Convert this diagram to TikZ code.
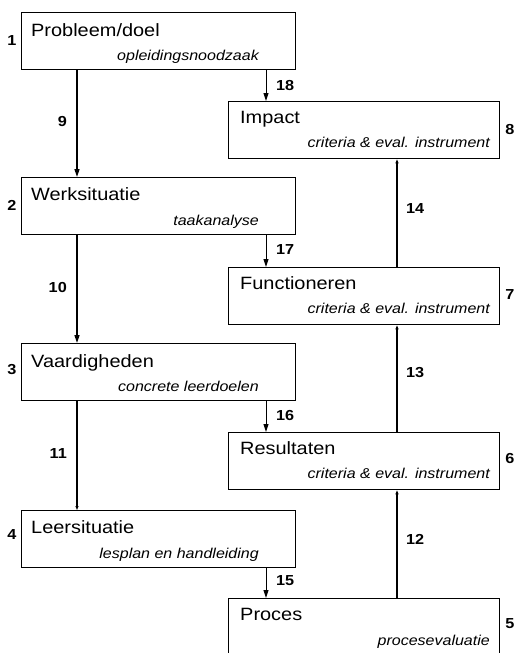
\documentclass[tikz,border=0pt]{standalone}
\usepackage{fontspec}
\setmainfont{Liberation Sans}[FakeStretch=1.12]
\usetikzlibrary{arrows.meta}
\begin{document}
\begin{tikzpicture}[x=1pt,y=-1pt,
  stage/.style={draw, line width=1.3pt, rectangle, inner sep=0pt, anchor=north west,
    minimum height=57pt},
  lstage/.style={stage, minimum width=274pt},
  rstage/.style={stage, minimum width=271pt},
  title/.style={anchor=base west, inner sep=0pt, font=\fontsize{17.8}{20}\selectfont},
  sub/.style={anchor=base east, inner sep=0pt, font=\fontsize{14.3}{16}\selectfont\itshape},
  num/.style={inner sep=0pt, font=\fontsize{14.5}{16}\selectfont\bfseries},
  down/.style={line width=1.5pt, -{Triangle[length=8pt,width=5pt]}},
  feed/.style={line width=1pt, -{Triangle[length=8pt,width=5pt]}},
  up/.style={line width=1.1pt, -{Triangle[length=4pt,width=3pt]}}]
\clip (0,0) rectangle (515,653);
\fill[white] (0,0) rectangle (515,653);

% left column: design stages
\node[lstage] (b1) at (21,12) {};
\node[lstage] (b2) at (21,177) {};
\node[lstage] (b3) at (21,343) {};
\node[lstage] (b4) at (21,510) {};

% right column: evaluation levels
\node[rstage] (r8) at (228,101) {};
\node[rstage] (r7) at (228,267) {};
\node[rstage] (r6) at (228,432) {};
\node[rstage] (r5) at (228,598) {};

% titles and subtitles
\node[title] (t1) at (31,36) {Probleem/doel};
\node[sub] (s1) at (259,60) {opleidingsnoodzaak};
\node[title] (t2) at (31,200) {Werksituatie};
\node[sub] (s2) at (259,225) {taakanalyse};
\node[title] (t3) at (31,367) {Vaardigheden};
\node[sub] (s3) at (259,391) {concrete leerdoelen};
\node[title] (t4) at (31,533) {Leersituatie};
\node[sub] (s4) at (259,558) {lesplan en handleiding};

\node[title] (t8) at (240,123) {Impact};
\node[sub] (s8) at (490,147) {criteria \& eval. instrument};
\node[title] (t7) at (240,289) {Functioneren};
\node[sub] (s7) at (490,313) {criteria \& eval. instrument};
\node[title] (t6) at (240,454) {Resultaten};
\node[sub] (s6) at (490,478) {criteria \& eval. instrument};
\node[title] (t5) at (240,620) {Proces};
\node[sub] (s5) at (490,645) {procesevaluatie};

% stage numbers
\node[num] (n1) at (12,41) {1};
\node[num] (n2) at (12,205) {2};
\node[num] (n3) at (12,370) {3};
\node[num] (n4) at (12,535) {4};
\node[num] (n8) at (510,130) {8};
\node[num] (n7) at (510,295) {7};
\node[num] (n6) at (510,459) {6};
\node[num] (n5) at (510,624) {5};

% connector columns
\coordinate (xl) at (77,0);
\coordinate (xs) at (266,0);
\coordinate (xu) at (397,0);

% downward chain on the left
\draw[down] (b1.south -| xl) -- (b2.north -| xl);
\draw[down] (b2.south -| xl) -- (b3.north -| xl);
\draw[up, line width=1.5pt] (b3.south -| xl) -- (b4.north -| xl);

% links from each stage to its evaluation level
\draw[feed] (b1.south -| xs) -- (r8.north -| xs);
\draw[feed] (b2.south -| xs) -- (r7.north -| xs);
\draw[feed] (b3.south -| xs) -- (r6.north -| xs);
\draw[feed] (b4.south -| xs) -- (r5.north -| xs);

% upward chain on the right
\draw[up] (r5.north -| xu) -- (r6.south -| xu);
\draw[up] (r6.north -| xu) -- (r7.south -| xu);
\draw[up] (r7.north -| xu) -- (r8.south -| xu);

% arrow numbers
\node[num, anchor=east] (a9) at (67,122) {9};
\node[num, anchor=east] (a10) at (67,288) {10};
\node[num, anchor=east] (a11) at (67,454) {11};
\node[num, anchor=west] (a18) at (276,86) {18};
\node[num, anchor=west] (a17) at (276,250) {17};
\node[num, anchor=west] (a16) at (276,416) {16};
\node[num, anchor=west] (a15) at (276,581) {15};
\node[num, anchor=west] (a14) at (406,209) {14};
\node[num, anchor=west] (a13) at (406,373) {13};
\node[num, anchor=west] (a12) at (406,539) {12};
\end{tikzpicture}
\end{document}
